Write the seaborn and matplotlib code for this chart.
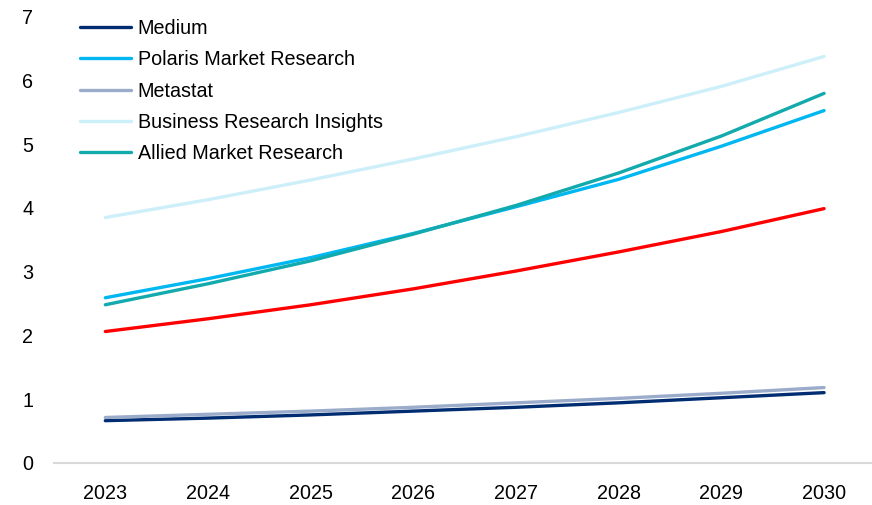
import matplotlib
matplotlib.use("Agg")
import matplotlib.pyplot as plt
import seaborn as sns
import pandas as pd

years = [2023, 2024, 2025, 2026, 2027, 2028, 2029, 2030]

medium = [0.66, 0.70, 0.75, 0.81, 0.87, 0.94, 1.02, 1.10]
polaris = [2.59, 2.89, 3.22, 3.60, 4.02, 4.45, 4.97, 5.53]
metastat = [0.71, 0.76, 0.81, 0.87, 0.94, 1.01, 1.09, 1.18]
business_insights = [3.85, 4.13, 4.44, 4.77, 5.12, 5.50, 5.91, 6.38]
allied = [2.48, 2.81, 3.17, 3.59, 4.04, 4.55, 5.13, 5.80]
average = [2.06, 2.26, 2.48, 2.73, 3.01, 3.31, 3.63, 3.99]

series = [
    ("Medium", medium, "#002D72"),
    ("Polaris Market Research", polaris, "#00B7F1"),
    ("Metastat", metastat, "#9BACCB"),
    ("Business Research Insights", business_insights, "#CDEFFA"),
    ("Allied Market Research", allied, "#12AAAD"),
]

sns.set_theme(style="white")
plt.rcParams["font.family"] = ["Liberation Sans", "DejaVu Sans"]
plt.rcParams["text.color"] = "#000000"

fig = plt.figure(figsize=(8.72, 5.05), dpi=100)
ax = fig.add_axes([0.0619, 0.0838, 0.942, 0.8826])

for name, values, color in series:
    df = pd.DataFrame({"year": years, "value": values})
    sns.lineplot(data=df, x="year", y="value", ax=ax, color=color,
                 linewidth=2.4, label=name, solid_capstyle="round")

avg_df = pd.DataFrame({"year": years, "value": average})
sns.lineplot(data=avg_df, x="year", y="value", ax=ax, color="#FF0000",
             linewidth=2.4, legend=False, solid_capstyle="round")

ax.set_xlim(2022.5, 2030.5)
ax.set_ylim(0, 7)
ax.set_xticks(years)
ax.set_xticklabels([str(y) for y in years])
ax.set_yticks(range(0, 8))
ax.set_xlabel("")
ax.set_ylabel("")
ax.tick_params(axis="both", length=0, labelsize=14.2, colors="#000000")
ax.tick_params(axis="x", pad=15)
ax.tick_params(axis="y", pad=15)

for side in ["top", "right", "left"]:
    ax.spines[side].set_visible(False)
ax.spines["bottom"].set_color("#D9D9D9")
ax.spines["bottom"].set_linewidth(1.5)
ax.grid(False)

ax.legend(loc="upper left", bbox_to_anchor=(0.092, 0.963), bbox_transform=fig.transFigure,
          frameon=False, fontsize=14.2, handlelength=2.55, handletextpad=0.36,
          labelspacing=0.63, borderpad=0, borderaxespad=0)

fig.savefig("out.png", dpi=100)
